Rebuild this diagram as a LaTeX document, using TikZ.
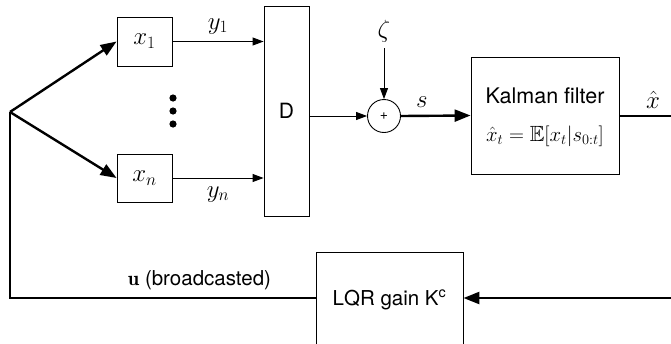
\documentclass[tikz,border=0pt]{standalone}
\usepackage{amssymb}
\usepackage{fontspec}
\setsansfont{TeX Gyre Heros}
\usetikzlibrary{arrows.meta}
\tikzset{
  blk/.style={draw, line width=0.9pt, inner sep=0pt},
  thin/.style={line width=0.9pt, -{Triangle[length=11pt,width=8pt]}},
  thickarr/.style={line width=2.4pt, -{Triangle[length=16pt,width=12pt]}},
  thickln/.style={line width=2.4pt},
  lbl/.style={inner sep=0pt},
  mathlbl/.style={inner sep=0pt, font=\fontsize{24}{28}\selectfont},
  sans/.style={font=\fontsize{20.5}{24}\sffamily}
}
\begin{document}
\begin{tikzpicture}[x=1pt,y=-1pt,font=\fontsize{21}{25}\selectfont]
\useasboundingbox (0,0) rectangle (671,343);
\clip (0,0) rectangle (671,343);
% split point
\coordinate (sp) at (10,112);
% plant boxes
\node[blk, minimum width=55pt, minimum height=49pt, font=\fontsize{24}{28}\selectfont] (x1) at (144.5,41.5) {$x_1$};
\node[blk, minimum width=55pt, minimum height=48pt, font=\fontsize{24}{28}\selectfont] (xn) at (144.5,178) {$x_n$};
% dots
\fill (173,98) circle (3.6pt);
\fill (173,111) circle (3.6pt);
\fill (173,124) circle (3.6pt);
% D box
\node[blk, minimum width=45pt, minimum height=210pt, font=\fontsize{21}{25}\sffamily] (D) at (286.5,111) {D};
% sum
\node[draw, circle, line width=0.9pt, minimum size=33pt, inner sep=0pt, font=\fontsize{14}{16}\sffamily] (sum) at (384,116) {+};
\node[mathlbl] (zeta) at (384,31) {$\zeta$};
\coordinate (zs) at (384,48);
% Kalman
\node[blk, minimum width=148pt, minimum height=117pt] (kf) at (545,115.5) {};
\node[lbl, font=\fontsize{21.5}{25}\sffamily] (kft) at ([yshift=20pt]kf.center) {Kalman filter};
\node[lbl, font=\fontsize{22}{26}\selectfont] (kff) at ([yshift=-21pt]kf.center) {$\hat{x}_t=\mathbb{E}[x_t|s_{0:t}]$};
\coordinate (xout) at (671,116);
% LQR
\node[blk, minimum width=147pt, minimum height=96pt, sans] (lqr) at (389.5,300) {LQR gain K\textsuperscript{c}};
\coordinate (rin) at (671,298);
\coordinate (bl) at (10,298);

% connectors
\draw[thickarr] (sp) -- (x1.west);
\draw[thickarr] (sp) -- (xn.west);
\draw[thin] (x1.east) -- node[mathlbl, above=7pt] {$y_1$} (x1.east -| D.west);
\draw[thin] (xn.east) -- node[mathlbl, below=8pt] {$y_n$} (xn.east -| D.west);
\draw[thin] (sum -| D.east) -- (sum.west);
\draw[thin] (zs) -- (sum.north);
\draw[thickarr] (sum.east) -- node[mathlbl, above=7pt, pos=0.3] {$s$} (kf.west);
\draw[thickln] (kf.east |- xout) -- node[mathlbl, above=6pt, pos=0.65] {$\hat{x}$} (xout);
\draw[thickarr] (rin) -- (lqr.east |- rin);
\draw[thickln] (lqr.west |- bl) -- node[lbl, above=7pt, pos=0.38, sans] {$\mathbf{u}$ (broadcasted)} (bl) -- (sp);
\end{tikzpicture}
\end{document}
